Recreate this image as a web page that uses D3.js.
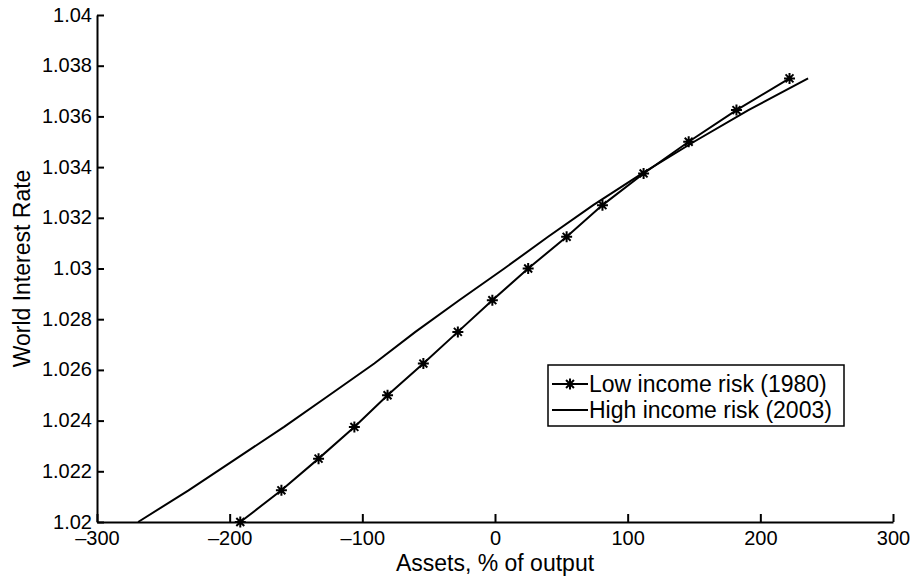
<!DOCTYPE html>
<html>
<head>
<meta charset="utf-8">
<script src="https://cdn.jsdelivr.net/npm/d3@7"></script>
<style>
  html, body { margin: 0; padding: 0; background: #fff; }
  svg { display: block; font-family: "Liberation Sans", Arial, Helvetica, sans-serif; }
</style>
</head>
<body>
<svg id="chart" width="912" height="577"></svg>
<script>
// World interest rate (gross) on the vertical axis
const rates = [1.02, 1.02125, 1.0225, 1.02375, 1.025, 1.02625, 1.0275, 1.02875,
               1.03, 1.03125, 1.0325, 1.03375, 1.035, 1.03625, 1.0375];
// Asset demand, % of output, at each interest rate
const assetsLowRisk  = [-192, -161, -133, -106, -81, -54, -28, -2, 25, 54, 81, 112, 146, 182, 222];
const assetsHighRisk = [-269, -231, -195, -159, -125, -91, -60, -27, 7, 40, 74, 111, 150, 191, 236];

const seriesNames = ["Low income risk (1980)", "High income risk (2003)"];
const xTicks = [-300, -200, -100, 0, 100, 200, 300];
const yTicks = [1.02, 1.022, 1.024, 1.026, 1.028, 1.03, 1.032, 1.034, 1.036, 1.038, 1.04];
const xTitle = "Assets, % of output";
const yTitle = "World Interest Rate";

const svg = d3.select("#chart");
const plot = { left: 97, right: 893, top: 15, bottom: 522 };

const x = d3.scaleLinear().domain([-300, 300]).range([plot.left, plot.right]);
const y = d3.scaleLinear().domain([1.02, 1.04]).range([plot.bottom, plot.top]);

const lowPts = rates.map((r, i) => [assetsLowRisk[i], r]);
const highPts = rates.map((r, i) => [assetsHighRisk[i], r]);

const line = d3.line().x(d => x(d[0])).y(d => y(d[1]));

// asterisk marker
function star(r) {
  const a = r * 0.72;
  return `M${-r},0H${r}M0,${-r}V${r}M${-a},${-a}L${a},${a}M${-a},${a}L${a},${-a}`;
}

// axes (left and bottom only, ticks pointing inward)
const xAxis = d3.axisBottom(x).tickValues(xTicks).tickSizeInner(-8).tickSizeOuter(0).tickPadding(11)
  .tickFormat(d => d < 0 ? "\u2013" + Math.abs(d) : String(d));
const yAxis = d3.axisLeft(y).tickValues(yTicks).tickSizeInner(-7).tickSizeOuter(0).tickPadding(5)
  .tickFormat(d => String(+d.toFixed(3)));

const gx = svg.append("g").attr("transform", `translate(0,${plot.bottom})`).call(xAxis);
const gy = svg.append("g").attr("transform", `translate(${plot.left},0)`).call(yAxis);

[gx, gy].forEach(g => {
  g.select(".domain").attr("stroke", "#000").attr("stroke-width", 2);
  g.selectAll(".tick line").attr("stroke", "#000").attr("stroke-width", 2);
  g.selectAll(".tick text").attr("fill", "#000").attr("font-size", 20)
    .attr("font-family", "Liberation Sans, Arial, sans-serif");
});
gx.selectAll(".tick text").attr("dy", "0.62em");
gy.selectAll(".tick text").attr("dy", "0.3em");

// series
svg.append("path").datum(highPts).attr("d", line)
  .attr("fill", "none").attr("stroke", "#000").attr("stroke-width", 2);
svg.append("path").datum(lowPts).attr("d", line)
  .attr("fill", "none").attr("stroke", "#000").attr("stroke-width", 2);
svg.append("g").selectAll("path").data(lowPts).join("path")
  .attr("transform", d => `translate(${x(d[0])},${y(d[1])})`)
  .attr("d", star(5.5)).attr("fill", "none").attr("stroke", "#000").attr("stroke-width", 2);

// axis titles
svg.append("text").attr("x", (plot.left + plot.right) / 2).attr("y", 571)
  .attr("text-anchor", "middle").attr("font-size", 23).text(xTitle);
svg.append("text").attr("transform", `translate(30,${(plot.top + plot.bottom) / 2}) rotate(-90)`)
  .attr("text-anchor", "middle").attr("font-size", 23).text(yTitle);

// legend
const lg = svg.append("g").attr("transform", "translate(548,365)");
lg.append("rect").attr("width", 296).attr("height", 61)
  .attr("fill", "#fff").attr("stroke", "#000").attr("stroke-width", 1.5);
const rowsY = [19, 45];
seriesNames.forEach((name, i) => {
  lg.append("line").attr("x1", 4).attr("x2", 40).attr("y1", rowsY[i]).attr("y2", rowsY[i])
    .attr("stroke", "#000").attr("stroke-width", 2);
  if (i === 0) {
    lg.append("path").attr("transform", `translate(22,${rowsY[i]})`)
      .attr("d", star(5.5)).attr("fill", "none").attr("stroke", "#000").attr("stroke-width", 2);
  }
  lg.append("text").attr("x", 41).attr("y", rowsY[i]).attr("dy", "0.36em")
    .attr("font-size", 23).text(name);
});
</script>
</body>
</html>
